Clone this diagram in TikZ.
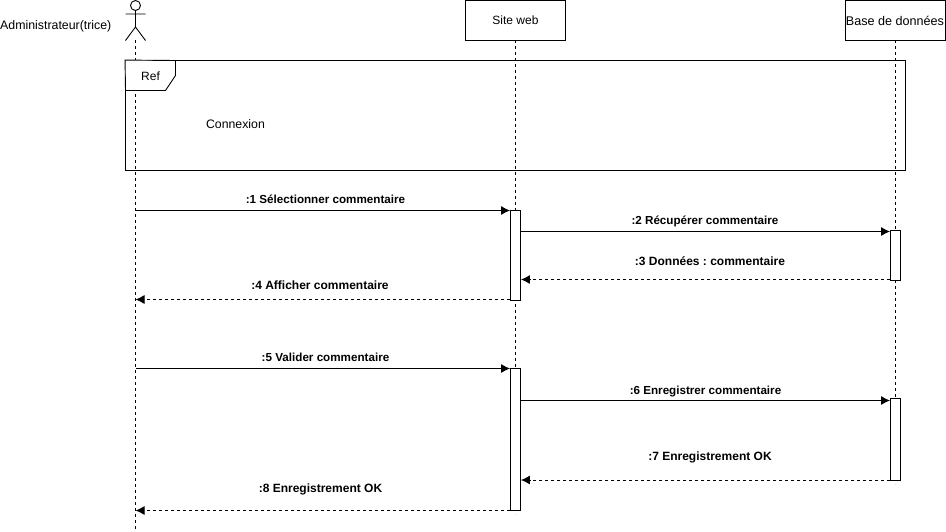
\documentclass[tikz,border=0pt]{standalone}
\usepackage{fontspec}
\setmainfont{Liberation Sans}
\usetikzlibrary{arrows.meta}
\tikzset{
  x=1pt,y=-1pt,
  ln/.style={line width=0.9pt,black},
  life/.style={ln,dash pattern=on 3pt off 3pt},
  head/.style={box,minimum width=100pt,minimum height=40pt,font=\fontsize{12}{14}\selectfont},
  box/.style={draw,ln,fill=white,inner sep=0pt},
  act/.style={box,minimum width=10pt},
  msg/.style={ln,-{Latex[length=9pt,width=9pt]}},
  ret/.style={ln,dash pattern=on 3pt off 3pt,-{Latex[length=9pt,width=9pt]}},
  lab/.style={inner sep=0pt,font=\bfseries\fontsize{11.65}{13}\selectfont},
  labb/.style={inner sep=0pt,font=\bfseries\fontsize{12}{14}\selectfont},
  txt/.style={inner sep=0pt,font=\fontsize{12}{14}\selectfont},
}
\begin{document}
\begin{tikzpicture}
\frenchspacing
\useasboundingbox (0,0) rectangle (946,531);
\fill[white] (0,0) rectangle (946,531);
% end points of the lifelines
\coordinate (a0) at (135.5,40);
\coordinate (a1) at (135.5,530);
\coordinate (s0) at (515.5,40);
\coordinate (s1) at (515.5,514);
\coordinate (d0) at (895.5,40);
\coordinate (d1) at (895.5,484);
\draw[life] (a0)--(a1);
\draw[life] (s0)--(s1);
\draw[life] (d0)--(d1);
% heads
\node[head] (site) at (515.5,20.5) {Site web};
\node[head,font=\fontsize{12.6}{14}\selectfont] (base) at (895,20.5) {Base de données};
\node[txt,anchor=west,font=\fontsize{12.35}{14}\selectfont] (admin) at (0,26) {Administrateur(trice)};
% actor
\node[draw,ln,circle,minimum size=10pt,inner sep=0pt] (ahead) at (135.5,5.5) {};
\coordinate (ahip) at (135.5,27);
\coordinate (lleg) at (125.5,40.5);
\coordinate (rleg) at (145.5,40.5);
\coordinate (larm) at (125.5,14);
\coordinate (rarm) at (145.5,14);
\draw[ln] (ahead.south)--(ahip) (larm)--(rarm) (lleg)--(ahip)--(rleg);
% frame
\node[draw,ln,minimum width=780pt,minimum height=110pt,inner sep=0pt] (frame) at (515.5,115.5) {};
\coordinate (p1) at (125.5,90.5);
\coordinate (p2) at (165.5,90.5);
\coordinate (p3) at (175.5,75.5);
\coordinate (p4) at (175.5,60.5);
\filldraw[ln,fill=white] (frame.north west)--(p1)--(p2)--(p3)--(p4)--cycle;
\node[txt] (ref) at (150.5,76) {Ref};
\node[txt,font=\fontsize{12.3}{14}\selectfont] (cnx) at (235.5,124) {Connexion};
% activations
\node[act,minimum height=90.5pt] (s1a) at (515.5,255.5) {};
\node[act,minimum height=142pt] (s2a) at (515.5,439.5) {};
\node[act,minimum height=50pt] (d1a) at (895.5,255.5) {};
\node[act,minimum height=82pt] (d2a) at (895.5,439.5) {};
% free ends on the actor's lifeline
\coordinate (m1) at (135.5,210.5);
\coordinate (m2) at (515.5,231.5);
\coordinate (m3) at (895.5,279.5);
\coordinate (m4) at (135.5,299.5);
\coordinate (m5) at (135.5,368.5);
\coordinate (m6) at (515.5,400.5);
\coordinate (m7) at (895.5,480);
\coordinate (m8) at (135.5,510.5);
% messages
\draw[msg] (m1)--(s1a.west |- m1);
\draw[msg] (s1a.east |- m2)--(d1a.west |- m2);
\draw[ret] (d1a.west |- m3)--(s1a.east |- m3);
\draw[ret] (s1a.west |- m4)--(m4);
\draw[msg] (m5)--(s2a.west |- m5);
\draw[msg] (s2a.east |- m6)--(d2a.west |- m6);
\draw[ret] (d2a.west |- m7)--(s2a.east |- m7);
\draw[ret] (s2a.west |- m8)--(m8);
% labels
\node[lab] (l1) at (325.5,199.5) {:1 Sélectionner commentaire};
\node[lab] (l2) at (705,221.5) {:2 Récupérer commentaire};
\node[labb] (l3) at (710,261.5) {:3 Données : commentaire};
\node[labb] (l4) at (320,285.5) {:4 Afficher commentaire};
\node[lab] (l5) at (325.5,357.5) {:5 Valider commentaire};
\node[lab] (l6) at (705.5,392) {:6 Enregistrer commentaire};
\node[labb] (l7) at (710,457) {:7 Enregistrement OK};
\node[labb] (l8) at (320.5,489) {:8 Enregistrement OK};
\end{tikzpicture}
\end{document}
